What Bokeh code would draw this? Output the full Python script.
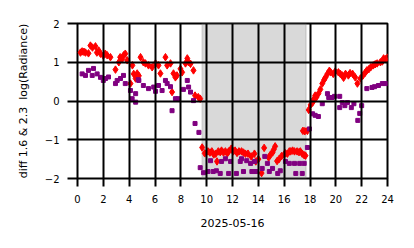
from bokeh.plotting import figure
from bokeh.models import BoxAnnotation, FixedTicker, Range1d
from bokeh.embed import file_html
from bokeh.resources import INLINE

# ---- data (hours of 2025-05-16, diff of log radiance) ----
red_hours = [0.23, 0.36, 0.5, 0.62, 0.85, 1.0, 1.16, 1.39, 1.5, 1.65, 1.78, 2.0, 2.15, 2.3, 2.55,
             2.94, 3.2, 3.3, 3.45, 3.57, 3.7, 3.85, 4.1, 4.25, 4.35, 4.5, 4.62, 4.75, 4.88, 5.1,
             5.26, 5.5, 5.78, 6.04, 6.27, 6.42, 6.81, 6.94, 7.2, 7.32, 7.43, 7.58, 7.7, 7.97,
             8.1, 8.36, 8.5, 8.6, 8.75, 8.98, 9.1, 9.35, 9.5,
             9.65, 9.85, 10.1, 10.25, 10.4, 10.55, 10.7, 10.8, 10.9, 11.05, 11.15, 11.3, 11.45,
             11.6, 11.7, 11.9, 12.05, 12.2, 12.35, 12.5, 12.7, 12.85, 13.0, 13.2, 13.45, 13.7,
             13.8, 14.0, 14.25, 14.45, 14.8, 14.95, 15.1, 15.2, 15.3, 15.45, 15.6, 15.8, 16.0,
             16.1, 16.25, 16.4, 16.5, 16.65, 16.8, 17.0, 17.15, 17.25, 17.4, 17.55, 17.65,
             17.45, 17.6, 17.8, 17.9, 18.05, 18.2, 18.3, 18.4, 18.5, 18.65, 18.8, 18.95, 19.1,
             19.2, 19.35, 19.5, 19.6, 19.8, 19.95, 20.2, 20.35, 20.5, 20.6, 20.75, 20.97, 21.1,
             21.3, 21.5, 21.67, 21.9, 22.1, 22.25, 22.4, 22.55, 22.7, 22.9, 23.05, 23.2, 23.45,
             23.6, 23.7, 23.85, 24.0]
red_values = [1.25, 1.28, 1.27, 1.25, 1.23, 1.43, 1.38, 1.41, 1.25, 1.3, 1.22, 1.17, 1.22, 1.18, 1.13,
              0.81, 1.0, 1.13, 1.08, 1.18, 1.22, 1.05, 0.45, 0.92, 0.7, 0.58, 0.71, 0.65, 1.13, 1.0,
              0.97, 0.92, 0.87, 0.97, 0.92, 0.71, 1.13, 0.92, 0.97, 0.23, 0.71, 0.61, 0.66, 0.83,
              0.74, 0.97, 1.1, 1.0, 0.96, 0.79, 0.14, 0.1, 0.06,
              -1.2, -1.35, -1.3, -1.33, -1.3, -1.38, -1.36, -1.56, -1.3, -1.32, -1.28, -1.33, -1.3,
              -1.35, -1.3, -1.23, -1.3, -1.28, -1.34, -1.3, -1.3, -1.33, -1.36, -1.36, -1.43, -1.36,
              -1.56, -1.5, -1.86, -1.21, -1.46, -1.38, -1.33, -1.25, -1.17, -1.55, -1.5, -1.42, -1.38,
              -1.35, -1.36, -1.3, -1.3, -1.28, -1.3, -1.3, -1.32, -1.3, -1.36, -1.4, -1.41,
              -0.77, -0.78, -0.77, -0.23, -0.1, -0.04, 0.05, 0.14, 0.1, 0.19, 0.3, 0.45, 0.55,
              0.61, 0.7, 0.78, 0.74, 0.7, 0.76, 0.74, 0.7, 0.66, 0.6, 0.7, 0.66, 0.72,
              0.7, 0.61, 0.45, 0.58, 0.66, 0.72, 0.79, 0.82, 0.87, 0.92, 0.95, 0.97, 1.0,
              1.02, 1.1, 1.08, 1.12]

purple_hours = [0.36, 0.62, 0.85, 1.14, 1.24, 1.52, 1.78, 2.0, 2.17, 2.4, 2.94, 3.07, 3.33, 3.56,
                3.7, 4.1, 4.23, 4.5, 4.5, 4.7, 4.75, 5.1, 5.5, 5.9, 6.04, 6.27, 6.55, 6.81, 6.94,
                7.2, 7.32, 7.58, 7.8, 8.2, 8.5, 8.6, 8.75, 8.98, 9.1, 9.4,
                9.5, 9.75, 10.1, 10.3, 10.5, 10.75, 11.05, 11.15, 11.45, 11.7, 11.85, 12.3, 12.6,
                12.7, 12.85, 13.1, 13.4, 13.5, 13.7, 13.8, 14.3, 14.5, 14.7, 14.85, 15.1, 15.5,
                15.7, 16.1, 16.4, 16.8, 16.9, 17.2, 17.4, 17.55, 17.8,
                17.95, 18.2, 18.4, 18.65, 18.95, 19.35, 19.45, 19.7, 19.9, 20.3, 20.3, 20.5, 20.7,
                20.9, 21.2, 21.4, 21.7, 21.85, 22.0, 22.4, 22.8, 23.0, 23.3, 23.6, 23.85]
purple_values = [0.7, 0.66, 0.79, 0.66, 0.84, 0.7, 0.61, 0.53, 0.58, 0.62, 0.45, 0.53, 0.58, 0.66,
                 0.45, 0.27, 0.06, -0.03, 0.19, 0.55, 0.53, 0.4, 0.32, 0.36, 0.25, 0.4, 0.27, 0.53, 0.45,
                 0.37, -0.25, 0.06, 0.06, 0.3, 0.53, 0.36, 0.23, 0.01, -0.58, -0.81,
                 -1.72, -1.85, -1.82, -1.54, -1.82, -1.8, -1.87, -1.56, -1.49, -1.87, -1.56, -1.87, -1.56,
                 -1.49, -1.82, -1.54, -1.61, -1.82, -1.56, -1.82, -1.74, -1.43, -1.61, -1.82, -1.74, -1.87,
                 -1.8, -1.56, -1.61, -1.61, -1.87, -1.61, -1.87, -1.61, -1.2,
                 -0.72, -0.33, -0.37, -0.4, -0.07, 0.19, 0.09, 0.09, 0.12, 0.12, -0.17, -0.04, -0.12,
                 -0.04, -0.17, -0.07, -0.5, -0.32, -0.12, 0.32, 0.35, 0.37, 0.4, 0.45, 0.45]

night_start, night_end = 9.65, 17.7
x_ticks = [0, 2, 4, 6, 8, 10, 12, 14, 16, 18, 20, 22, 24]
y_ticks = [-2, -1, 0, 1, 2]
y_tick_labels = ["\u22122", "\u22121", "0", "1", "2"]
x_label = "2025-05-16"
y_label = "diff 1.6 & 2.3\u00a0 log(Radiance)"

p = figure(width=414, height=248, output_backend="svg", toolbar_location=None,
           x_range=Range1d(0, 24), y_range=Range1d(-2, 2),
           min_border_left=77, min_border_right=27, min_border_top=23, min_border_bottom=70)

box = BoxAnnotation(left=night_start, right=night_end, fill_color="gray", fill_alpha=0.3,
                    line_color="gray", line_alpha=0.2, line_width=2, level="underlay")
p.add_layout(box)

p.scatter(red_hours, red_values, marker="diamond", size=7.5, color="red", line_color="red")
p.scatter(purple_hours, purple_values, marker="square", size=4, color="purple", line_color="purple")

p.xaxis.ticker = FixedTicker(ticks=x_ticks)
p.yaxis.ticker = FixedTicker(ticks=y_ticks)
p.yaxis.major_label_overrides = {t: s for t, s in zip(y_ticks, y_tick_labels)}

for ax in (p.xaxis, p.yaxis):
    ax.axis_line_color = None
    ax.major_tick_line_color = "black"
    ax.major_tick_line_width = 2
    ax.major_tick_in = 0
    ax.minor_tick_line_color = None
    ax.major_label_text_font = "DejaVu Sans"
    ax.major_label_text_font_size = "10px"
    ax.major_label_text_color = "black"
    ax.axis_label_text_font = "DejaVu Sans"
    ax.axis_label_text_font_size = "11px"
    ax.axis_label_text_font_style = "normal"
    ax.axis_label_text_color = "black"

p.xaxis.major_tick_out = 8
p.yaxis.major_tick_out = 10
p.xaxis.major_label_standoff = 8
p.yaxis.major_label_standoff = 8
p.xaxis.axis_label = x_label
p.yaxis.axis_label = y_label
p.xaxis.axis_label_standoff = 13
p.yaxis.axis_label_standoff = 12

p.xgrid.ticker = FixedTicker(ticks=x_ticks)
p.ygrid.ticker = FixedTicker(ticks=y_ticks)
for g in (p.xgrid, p.ygrid):
    g.grid_line_color = "black"
    g.grid_line_width = 2
    g.level = "glyph"

p.outline_line_color = "black"
p.outline_line_width = 2
p.background_fill_color = "white"
p.border_fill_color = "white"

open("out.html", "w").write(file_html(p, INLINE))
